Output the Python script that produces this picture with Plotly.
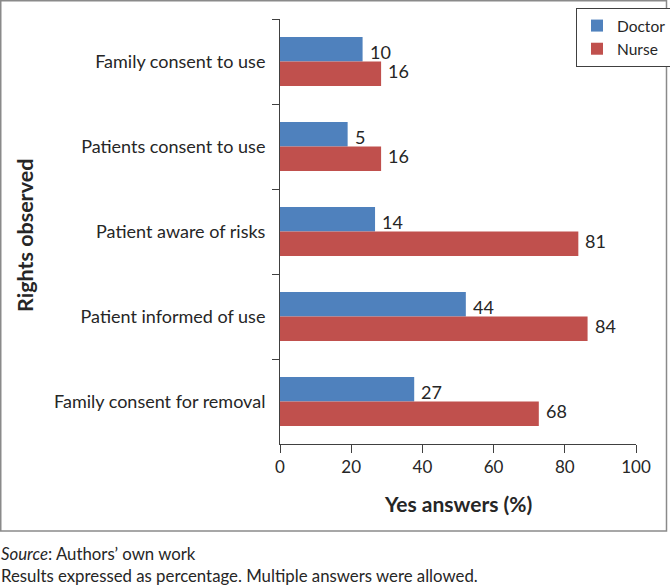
import plotly.graph_objects as go

categories = ["Family consent to use", "Patients consent to use", "Patient aware of risks",
              "Patient informed of use", "Family consent for removal"]
doctor_bar = [23.2, 19.0, 26.7, 52.2, 37.7]
nurse_bar = [28.4, 28.4, 83.8, 86.4, 72.7]
doctor_labels = ["10", "5", "14", "44", "27"]
nurse_labels = ["16", "16", "81", "84", "68"]
x_ticks = [0, 20, 40, 60, 80, 100]

FONT = "Lato"
TXT = "#262626"
BLUE = "#4F81BD"
RED = "#C0504D"

L, R, T, B = 280, 636, 19, 444
def px_to_paper_x(px):
    return (px - L) / (R - L)
def px_to_paper_y(py):
    return (B - py) / (B - T)

fig = go.Figure()
fig.add_trace(go.Bar(y=categories, x=doctor_bar, orientation="h", name="Doctor",
                     marker=dict(color=BLUE, line=dict(width=0))))
fig.add_trace(go.Bar(y=categories, x=nurse_bar, orientation="h", name="Nurse",
                     marker=dict(color=RED, line=dict(width=0))))

annotations = []
for c, v, t in zip(categories, doctor_bar, doctor_labels):
    annotations.append(dict(x=v, y=c, xref="x", yref="y", text=t, showarrow=False,
                            xanchor="left", yanchor="middle", xshift=5, yshift=10,
                            font=dict(family=FONT, size=18, color=TXT)))
for c, v, t in zip(categories, nurse_bar, nurse_labels):
    annotations.append(dict(x=v, y=c, xref="x", yref="y", text=t, showarrow=False,
                            xanchor="left", yanchor="middle", xshift=5, yshift=-9,
                            font=dict(family=FONT, size=18, color=TXT)))

annotations += [
    dict(x=0.5, y=px_to_paper_y(503), xref="paper", yref="paper", text="<b>Yes answers (%)</b>",
         showarrow=False, font=dict(family=FONT, size=21, color=TXT), xanchor="center", yanchor="middle"),
    dict(x=px_to_paper_x(25), y=px_to_paper_y(236), xref="paper", yref="paper",
         text="<b>Rights observed</b>", showarrow=False, textangle=-90,
         font=dict(family=FONT, size=21.5, color=TXT), xanchor="center", yanchor="middle"),
    dict(x=px_to_paper_x(-1), y=px_to_paper_y(553), xref="paper", yref="paper",
         text="<i>Source</i>: Authors’ own work", showarrow=False,
         font=dict(family=FONT, size=16.8, color=TXT), xanchor="left", yanchor="middle"),
    dict(x=px_to_paper_x(-1), y=px_to_paper_y(575), xref="paper", yref="paper",
         text="Results expressed as percentage. Multiple answers were allowed.", showarrow=False,
         font=dict(family=FONT, size=16.8, color=TXT), xanchor="left", yanchor="middle"),
]

fig.update_layout(
    template="none",
    width=670, height=586,
    margin=dict(l=L, r=670 - R, t=T, b=586 - B, pad=0, autoexpand=False),
    paper_bgcolor="white", plot_bgcolor="white",
    barmode="group", bargap=0.424, bargroupgap=0,
    font=dict(family=FONT, size=17, color=TXT),
    showlegend=True,
    legend=dict(x=px_to_paper_x(576), y=px_to_paper_y(8), xanchor="left", yanchor="top",
                bordercolor="#404040", borderwidth=1, bgcolor="white",
                font=dict(family=FONT, size=15.5, color=TXT), traceorder="normal",
                itemwidth=30, tracegroupgap=2),
    xaxis=dict(range=[0, 100], tickvals=x_ticks, ticks="outside", ticklen=8, tickcolor="#404040",
               showline=True, linecolor="#404040", linewidth=1, showgrid=False, zeroline=False,
               automargin=False, tickfont=dict(family=FONT, size=17, color=TXT)),
    yaxis=dict(categoryorder="array", categoryarray=categories, autorange="reversed",
               ticks="outside", tickson="boundaries", ticklen=7, tickcolor="#404040",
               showline=True, linecolor="#404040", linewidth=1, showgrid=False, automargin=False,
               tickfont=dict(family=FONT, size=18, color=TXT), ticklabelstandoff=10),
    annotations=annotations,
    shapes=[dict(type="rect", xref="paper", yref="paper",
                 x0=px_to_paper_x(0.75), x1=px_to_paper_x(666.5),
                 y0=px_to_paper_y(531), y1=px_to_paper_y(0.75),
                 line=dict(color="#8a8a8a", width=1.5), fillcolor="rgba(0,0,0,0)", layer="below")],
)

fig.write_html("out.html", config={"displayModeBar": False},
               post_script="document.body.style.margin='0';document.body.style.overflow='hidden';")
